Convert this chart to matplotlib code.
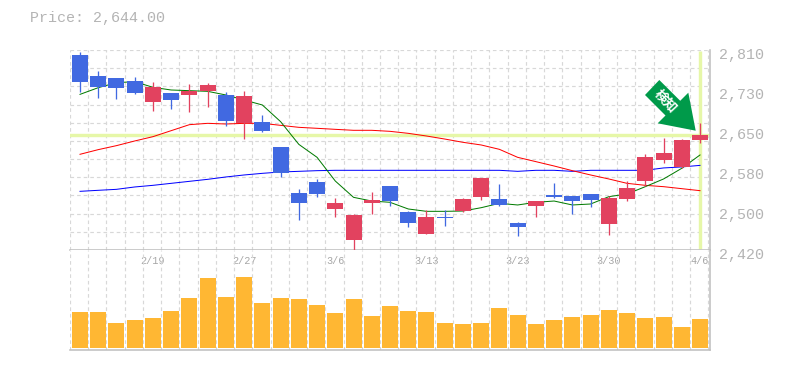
import numpy as np
import matplotlib
matplotlib.use("Agg")
import matplotlib.pyplot as plt
from matplotlib.patches import Polygon
from matplotlib.transforms import ScaledTranslation

opens = [2800.2,2759.3,2755.4,2749.6,2708.6,2726.2,2722.2,2730.0,2722.2,2667.0,2669.6,2620.9,2531.2,2552.6,2500.0,2439.5,2511.6,2544.8,
         2494.1,2451.2,2484.4,2495.4,2523.4,2519.4,2472.6,2505.8,2527.2,2525.3,2529.2,2470.7,2519.4,2554.6,2595.5,2581.8,2634.5]
closes = [2747.6,2737.8,2735.9,2726.2,2737.8,2712.5,2730.0,2741.8,2671.6,2720.3,2652.0,2570.2,2511.6,2529.2,2511.6,2488.2,2517.5,2515.6,
          2472.6,2484.4,2482.4,2519.4,2560.4,2507.8,2464.8,2515.6,2523.4,2515.6,2517.5,2521.4,2540.9,2601.4,2609.2,2634.5,2644.2]
highs = [2806.0,2769.0,2755.4,2757.4,2747.6,2726.2,2743.7,2745.6,2728.0,2730.0,2683.2,2620.9,2539.0,2558.4,2521.4,2490.2,2533.1,2544.8,
         2496.0,2498.0,2498.0,2521.4,2560.4,2548.7,2474.6,2515.6,2550.6,2525.3,2529.2,2525.3,2554.6,2607.2,2638.4,2636.4,2667.6]
lows = [2727.5,2716.4,2714.5,2724.2,2691.0,2695.0,2689.1,2698.8,2661.8,2636.4,2650.1,2562.4,2478.5,2523.4,2484.4,2418.0,2490.2,2505.8,
        2464.8,2451.2,2466.8,2494.1,2517.5,2505.8,2447.3,2484.4,2521.4,2490.2,2503.8,2449.2,2515.6,2544.8,2589.6,2579.9,2628.6]
ma_short = [2723.5,2736.5,2746.3,2748.3,2737.2,2732.0,2730.7,2729.4,2722.3,2712.5,2702.8,2670.3,2626.0,2600.7,2554.5,2522.7,2515.5,2513.0,
            2500.0,2495.4,2495.4,2496.0,2502.5,2511.0,2507.8,2513.0,2515.5,2507.8,2509.7,2524.0,2529.2,2543.5,2558.5,2579.3,2605.3]
ma_mid = [2606.6,2615.7,2623.5,2632.6,2641.0,2652.7,2664.4,2667.0,2665.7,2667.0,2667.0,2663.1,2659.2,2657.3,2655.3,2653.4,2653.4,2651.4,
          2647.5,2642.3,2636.4,2630.0,2624.8,2616.3,2600.7,2592.3,2583.8,2574.7,2566.3,2558.5,2550.0,2546.1,2543.5,2539.6,2535.7]
ma_long = [2534.4,2536.4,2538.3,2542.9,2546.1,2550.0,2553.9,2557.8,2562.4,2566.3,2569.5,2572.1,2573.4,2574.7,2575.4,2575.4,2575.4,2575.4,
           2575.4,2575.4,2575.4,2575.4,2575.4,2575.4,2573.4,2575.4,2575.4,2573.4,2575.4,2575.4,2575.4,2575.4,2580.0,2582.0,2585.0]
volumes = [108,108,75,84,90,111,150,210,153,213,135,150,147,129,105,147,96,126,
           111,108,75,72,75,120,99,72,84,93,99,114,105,90,93,63,87]
price_ticks = [2420,2498,2576,2654,2732,2810]
price_labels = ["2,420","2,500","2,580","2,650","2,730","2,810"]
date_idx = [4,9,14,19,24,29,34]
date_labels = ["2/19","2/27","3/6","3/13","3/23","3/30","4/6"]
last_price = 2644.0
title = "Price: 2,644.00"

W, H = 785, 370
UP, DOWN = "#e2425f", "#4169e1"
TXT, GRID, EDGE = "#b4b4b4", "#d8d8d8", "#c0c0c0"
HL = "#e6f7a8"
MONO = "Liberation Mono"
px = 72/100
X0, X1 = -0.548, 34.548
DASH = (0, (3, 2.5))

fig = plt.figure(figsize=(W/100, H/100), dpi=100, facecolor="white")
def box(l, t, r, b):
    return [l/W, 1-b/H, (r-l)/W, (b-t)/H]
ax = fig.add_axes(box(70, 50, 710, 250))
av = fig.add_axes(box(70, 250, 710, 350))

x = np.arange(len(opens))
xgrid = X0 + np.arange(len(opens) + 1)
for a in (ax, av):
    a.set_xlim(X0, X1)
    a.set_axisbelow(True)
    a.set_xticks(xgrid, minor=True)
    a.grid(True, which="minor", axis="x", color=GRID, lw=1.2*px, ls=DASH)
    a.tick_params(which="both", length=0)
    for s in ("top", "left"):
        a.spines[s].set_visible(False)
    for s in ("right", "bottom"):
        a.spines[s].set_color(EDGE)
        a.spines[s].set_linewidth(1.6*px)

ax.set_ylim(2420, 2810)
ax.set_yticks(np.linspace(2420, 2810, 12), minor=True)
ax.grid(True, which="minor", axis="y", color=GRID, lw=1.2*px, ls=DASH)
ax.plot([X0, X1], [2809.5, 2809.5], color=GRID, lw=1.2*px, ls=DASH, zorder=1)
ax.set_xticks([])

ax.axhline(last_price, color=HL, lw=3.4*px, zorder=2)
ax.plot([x[-1], x[-1]], [2421, 2809], color=HL, lw=3.4*px, zorder=2, solid_capstyle="butt")

for ys, c in ((ma_long, "#0000ff"), (ma_mid, "#ff0000"), (ma_short, "#007a00")):
    ax.plot(x, ys, color=c, lw=1.0*px, zorder=3)

o, c_ = np.array(opens), np.array(closes)
cols = [UP if b > a else DOWN for a, b in zip(o, c_)]
ax.vlines(x, lows, highs, colors=cols, lw=1.3*px, zorder=4)
ax.bar(x, np.abs(c_-o), bottom=np.minimum(o, c_), width=0.877, color=cols, zorder=5, lw=0)

ax.yaxis.tick_right()
ax.set_yticks(price_ticks)
ax.set_yticklabels(price_labels, fontfamily=MONO, fontsize=10.8, color=TXT)
ax.tick_params(axis="y", which="major", pad=6.5, length=0)
off = ScaledTranslation(0, -3/100, fig.dpi_scale_trans)
for t in ax.get_yticklabels():
    t.set_transform(t.get_transform() + off)
    t.set_clip_on(False)

av.bar(x, volumes, width=0.877, color="#ffb733", zorder=3, lw=0)
av.set_ylim(-6, 294)
av.set_yticks([])
av.xaxis.tick_top()
av.set_xticks(date_idx)
av.set_xticklabels(date_labels, fontfamily=MONO, fontsize=7.3, color="#a6a6a6")
av.tick_params(axis="x", which="major", length=0, pad=-11.5)

fig.text(30/W, 1-18/H, title, fontfamily=MONO, fontsize=10.8, color=TXT, va="center", ha="left")

# "signal" arrow badge
shape = [(645,95),(659.3,80),(680.2,100.8),(688.3,92.7),(695.7,130.7),(657.7,123.3),(665.5,115.5)]
fig.add_artist(Polygon([(a/W, 1-b/H) for a, b in shape], closed=True, transform=fig.transFigure,
                       facecolor="#009a4a", edgecolor="none", zorder=10))
fig.text(665.5/W, 1-101/H, "検知", family=["Noto Sans CJK JP", "DejaVu Sans"], fontsize=9.5, fontweight="bold",
         color="white", rotation=-47, rotation_mode="anchor", ha="center", va="center", zorder=11)

fig.savefig("out.png", dpi=100, facecolor="white")
